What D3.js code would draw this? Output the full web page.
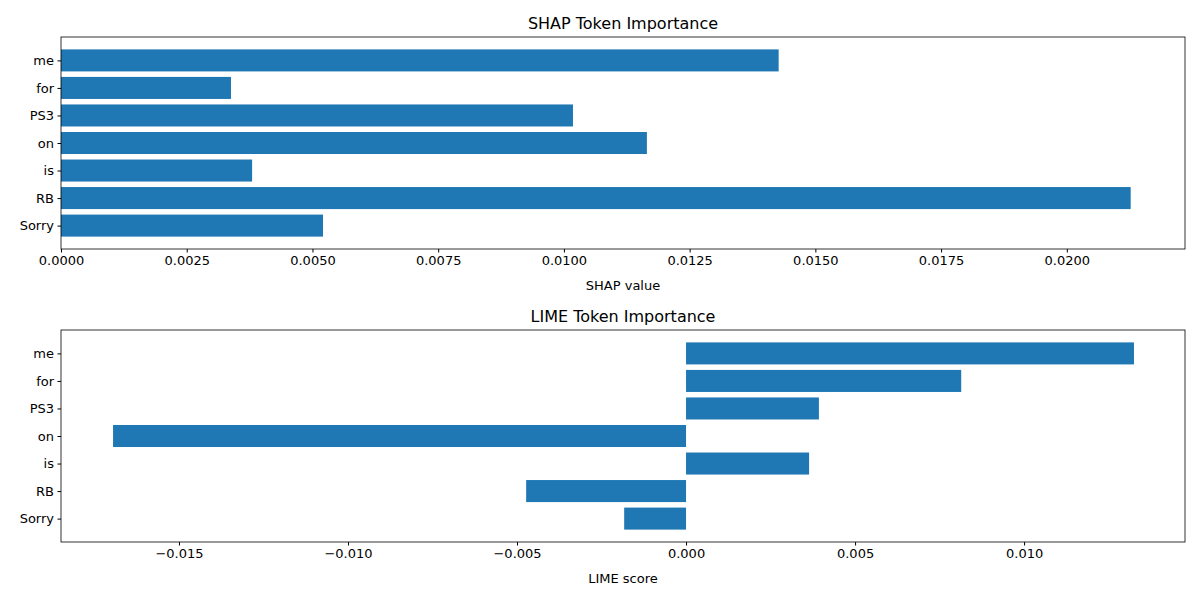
<!DOCTYPE html>
<html><head><meta charset="utf-8">
<script src="https://cdn.jsdelivr.net/npm/d3@7"></script>
<style>body{margin:0;background:#fff}text{font-family:"DejaVu Sans",sans-serif;fill:#000}</style>
</head><body><svg id="c" width="1200" height="600"></svg>
<script>
const tokens = ['Sorry', 'RB', 'is', 'on', 'PS3', 'for', 'me'];
const shapValues = [0.00521, 0.02127, 0.0038, 0.01165, 0.01018, 0.00338, 0.01427];
const limeValues = [-0.00183, -0.00473, 0.00364, -0.01695, 0.00393, 0.00814, 0.01325];
const shapTicks = [0, 0.0025, 0.005, 0.0075, 0.01, 0.0125, 0.015, 0.0175, 0.02];
const limeTicks = [-0.015, -0.01, -0.005, 0, 0.005, 0.01];

const svg = d3.select('#c');

function panel(top, vals, xdom, ticks, fmt, title, xlabel) {
  const left = 61, right = 1185, h = 212;
  const g = svg.append('g').attr('transform', `translate(0,${top})`);
  const x = d3.scaleLinear().domain(xdom).range([left, right]);
  const y = d3.scaleLinear().domain([-0.85, tokens.length - 1 + 0.85]).range([h, 0]);
  const bh = y(0) - y(0.8);
  g.selectAll('rect.bar').data(vals).join('rect')
    .attr('x', d => x(Math.min(0, d))).attr('width', d => Math.abs(x(d) - x(0)))
    .attr('y', (d, i) => y(i) - bh / 2).attr('height', bh).attr('fill', '#1f77b4');
  g.append('rect').attr('x', left).attr('y', 0).attr('width', right - left).attr('height', h)
    .attr('fill', 'none').attr('stroke', '#000').attr('stroke-width', 0.8);
  const xa = g.append('g').attr('transform', `translate(0,${h})`)
    .call(d3.axisBottom(x).tickValues(ticks).tickFormat(fmt).tickSize(3.5).tickPadding(3.5));
  const ya = g.append('g').attr('transform', `translate(${left},0)`)
    .call(d3.axisLeft(y).tickValues(d3.range(tokens.length)).tickFormat(i => tokens[i]).tickSize(3.5).tickPadding(3.5));
  [xa, ya].forEach(a => { a.select('.domain').remove(); a.selectAll('text').style('font-size', '13px'); });
  g.append('text').attr('x', (left + right) / 2).attr('y', -8).attr('text-anchor', 'middle')
    .style('font-size', '16px').text(title);
  g.append('text').attr('x', (left + right) / 2).attr('y', h + 41).attr('text-anchor', 'middle')
    .style('font-size', '13px').text(xlabel);
}

panel(37, shapValues, [0, 0.02235], shapTicks, d3.format('.4f'), 'SHAP Token Importance', 'SHAP value');
panel(330, limeValues, [-0.01849, 0.01476], limeTicks, d => d3.format('.3f')(d).replace('-', '−'), 'LIME Token Importance', 'LIME score');
</script></body></html>
